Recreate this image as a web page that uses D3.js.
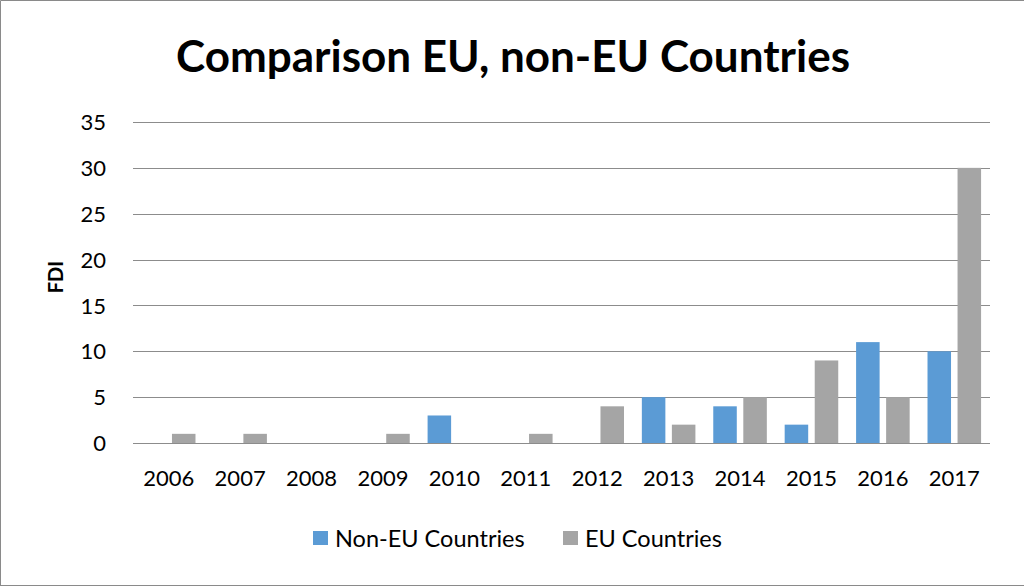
<!DOCTYPE html>
<html>
<head>
<meta charset="utf-8">
<script src="https://cdn.jsdelivr.net/npm/d3@7"></script>
<style>
  html, body { margin: 0; padding: 0; background: #fff; }
  svg { display: block; }
  text { font-family: Lato, "Open Sans", sans-serif; fill: #000; }
</style>
</head>
<body>
<svg id="chart" width="1024" height="586"></svg>
<script>
// FDI projects per year, split by origin
const years = ["2006", "2007", "2008", "2009", "2010", "2011", "2012", "2013", "2014", "2015", "2016", "2017"];
const nonEU = [0, 0, 0, 0, 3, 0, 0, 5, 4, 2, 11, 10];
const eu = [1, 1, 0, 1, 0, 1, 4, 2, 5, 9, 5, 30];
const seriesNames = ["Non-EU Countries", "EU Countries"];
const seriesColors = ["#5B9BD5", "#A5A5A5"];
const yTicks = [0, 5, 10, 15, 20, 25, 30, 35];

const svg = d3.select("#chart");
const W = 1024, H = 586;
const plot = { left: 133, right: 990, top: 122, bottom: 443 };

// frame around the chart area
svg.append("path")
  .attr("d", `M0.5,${H} L0.5,0.5 L${W},0.5 M0,${H - 0.5} L${W},${H - 0.5}`)
  .attr("fill", "none")
  .attr("stroke", "#8a8a8a")
  .attr("stroke-width", 1);

const x = d3.scaleBand().domain(years).range([plot.left, plot.right]).paddingInner(0.25).paddingOuter(0.125);
const xs = d3.scaleBand().domain(seriesNames).range([0, x.bandwidth()]).paddingInner(0.217);
const y = d3.scaleLinear().domain([0, 35]).range([plot.bottom, plot.top]);

// horizontal gridlines
svg.append("g").selectAll("line").data(yTicks).join("line")
  .attr("x1", plot.left).attr("x2", plot.right)
  .attr("y1", d => Math.round(y(d)) + 0.5).attr("y2", d => Math.round(y(d)) + 0.5)
  .attr("stroke", "#8c8c8c").attr("stroke-width", 1);

// y axis labels
const yAxis = d3.axisLeft(y).tickValues(yTicks).tickSize(0).tickPadding(0);
const yg = svg.append("g").attr("transform", "translate(106,0)").call(yAxis);
yg.select(".domain").remove();
yg.selectAll("text").attr("font-size", 22).attr("font-family", "Lato, sans-serif").attr("fill", "#000").attr("dy", "0.35em");

// x axis labels
const xAxis = d3.axisBottom(x).tickSize(0).tickPadding(0);
const xg = svg.append("g").attr("transform", `translate(0,${plot.bottom + 27})`).call(xAxis);
xg.select(".domain").remove();
xg.selectAll("text").attr("font-size", 22).attr("font-family", "Lato, sans-serif").attr("fill", "#000");

// grouped bars
const rows = years.map((yr, i) => ({ year: yr, values: [nonEU[i], eu[i]] }));
const groups = svg.append("g").selectAll("g").data(rows).join("g")
  .attr("transform", d => `translate(${x(d.year)},0)`);
groups.selectAll("rect")
  .data(d => d.values.map((v, k) => ({ name: seriesNames[k], value: v, color: seriesColors[k] })))
  .join("rect")
  .filter(d => d.value > 0)
  .attr("x", d => xs(d.name))
  .attr("width", xs.bandwidth())
  .attr("y", d => y(d.value))
  .attr("height", d => y(0) - y(d.value))
  .attr("fill", d => d.color);

// title
svg.append("text")
  .attr("x", 513).attr("y", 72)
  .attr("text-anchor", "middle")
  .attr("font-size", 44).attr("font-weight", "bold")
  .text("Comparison EU, non-EU Countries");

// y axis title
svg.append("text")
  .attr("transform", "translate(63,277) rotate(-90)")
  .attr("text-anchor", "middle")
  .attr("font-size", 20).attr("font-weight", "bold")
  .text("FDI");

// legend
const legendItems = [
  { name: seriesNames[0], color: seriesColors[0], x: 313 },
  { name: seriesNames[1], color: seriesColors[1], x: 563 }
];
const lg = svg.append("g").selectAll("g").data(legendItems).join("g")
  .attr("transform", d => `translate(${d.x},531)`);
lg.append("rect").attr("width", 15).attr("height", 14).attr("fill", d => d.color);
lg.append("text").attr("x", 22).attr("y", 16).attr("font-size", 23.5).text(d => d.name);
</script>
</body>
</html>
